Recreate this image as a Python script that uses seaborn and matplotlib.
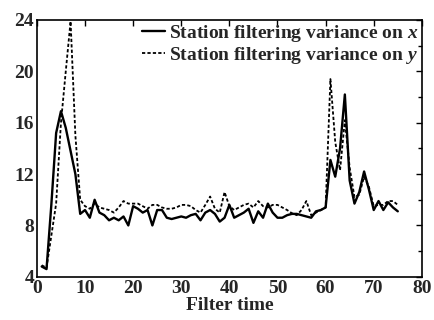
import numpy as np
import pandas as pd
import seaborn as sns
import matplotlib.pyplot as plt
from matplotlib import ticker

# tempo de filtragem e variâncias
tempo = list(range(1, 76))

var_x = [4.8, 4.6, 9.6, 15.2, 16.9, 15.6, 13.8, 12.0, 8.9, 9.2,
         8.6, 10.0, 9.0, 8.8, 8.4, 8.6, 8.4, 8.7, 8.0, 9.5,
         9.3, 9.0, 9.2, 8.0, 9.2, 9.2, 8.6, 8.5, 8.6, 8.7,
         8.6, 8.8, 8.9, 8.4, 9.0, 9.2, 8.9, 8.3, 8.6, 9.6,
         8.6, 8.8, 9.0, 9.3, 8.2, 9.1, 8.6, 9.7, 9.0, 8.6,
         8.6, 8.8, 8.9, 8.9, 8.8, 8.7, 8.6, 9.1, 9.2, 9.4,
         13.1, 11.8, 14.0, 18.2, 11.5, 9.7, 10.6, 12.2, 10.8, 9.2,
         9.9, 9.2, 9.8, 9.4, 9.1]

var_y = [4.9, 4.7, 7.2, 9.7, 16.0, 20.0, 23.9, 15.0, 10.0, 9.5,
         9.3, 9.7, 9.4, 9.3, 9.2, 9.0, 9.4, 9.9, 9.7, 9.7,
         9.7, 9.5, 9.3, 9.6, 9.6, 9.4, 9.3, 9.3, 9.4, 9.6,
         9.6, 9.5, 9.2, 9.0, 9.6, 10.25, 9.3, 9.0, 10.6, 9.5,
         9.2, 9.4, 9.6, 9.7, 9.4, 9.9, 9.5, 9.4, 9.6, 9.6,
         9.4, 9.2, 8.95, 8.8, 9.2, 9.9, 8.8, 9.0, 9.2, 9.4,
         19.4, 14.5, 12.3, 16.2, 12.5, 10.2, 10.4, 11.8, 11.0, 9.5,
         9.6, 9.6, 9.9, 9.9, 9.6]

x_ticks = [0, 10, 20, 30, 40, 50, 60, 70, 80]
y_ticks = [4, 8, 12, 16, 20, 24]

sns.set_style('white')
plt.rcParams['font.family'] = ['Liberation Serif', 'DejaVu Serif']
plt.rcParams['mathtext.fontset'] = 'custom'
plt.rcParams['mathtext.it'] = 'Liberation Serif:italic:bold'
plt.rcParams['mathtext.rm'] = 'Liberation Serif:bold'

dados = pd.DataFrame({'t': tempo, 'x': var_x, 'y': var_y})

fig = plt.figure(figsize=(4.34, 3.2), dpi=100)
ax = fig.add_axes([0.085, 0.135, 0.887, 0.8025])

sns.lineplot(data=dados, x='t', y='x', ax=ax, color='black', lw=1.7,
             label='Station filtering variance on $x$')
sns.lineplot(data=dados, x='t', y='y', ax=ax, color='black', lw=1.3,
             linestyle=(0, (1.8, 1.2)), label='Station filtering variance on $y$')

ax.set_xlim(0, 80)
ax.set_ylim(4, 24)
ax.set_xticks(x_ticks)
ax.set_yticks(y_ticks)
ax.yaxis.set_minor_locator(ticker.MultipleLocator(2))

for s in ax.spines.values():
    s.set_visible(True)
    s.set_color('black')
    s.set_linewidth(1.2)

ax.tick_params(which='both', direction='in', top=True, right=True,
               color='black', width=1.0)
ax.tick_params(which='major', length=4, labelsize=14, pad=2)
ax.tick_params(which='minor', length=3)
for lab in ax.get_xticklabels() + ax.get_yticklabels():
    lab.set_fontweight('bold')

ax.set_xlabel('Filter time', fontsize=14, fontweight='bold', labelpad=0)
ax.set_ylabel('')

ax.legend(loc='upper right', frameon=False, handlelength=1.2,
          handletextpad=0.2, borderaxespad=0.05, borderpad=0.1,
          labelspacing=0.05, prop={'weight': 'bold', 'size': 14})

plt.savefig('out.png', dpi=100)
